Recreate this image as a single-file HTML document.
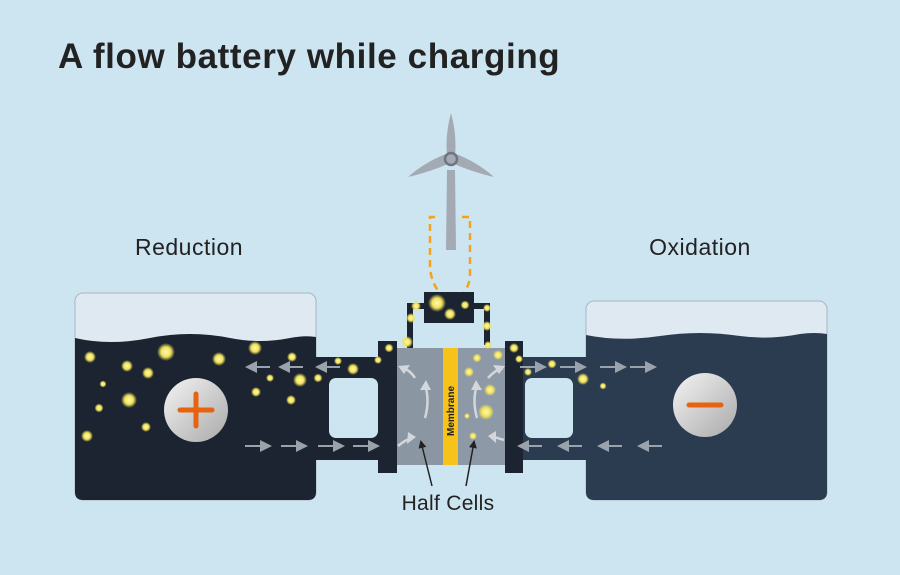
<!DOCTYPE html>
<html><head><style>
html,body{margin:0;padding:0;background:#cde4f1;}
svg{display:block;}
text{font-family:"Liberation Sans",sans-serif;}
</style></head><body>
<svg width="900" height="575" viewBox="0 0 900 575" xmlns="http://www.w3.org/2000/svg">
<defs>
<radialGradient id="b"><stop offset="0" stop-color="#fffbb0"/><stop offset="0.55" stop-color="#f1e15a"/><stop offset="1" stop-color="#f1e15a" stop-opacity="0"/></radialGradient>
<linearGradient id="c" x1="0" y1="0" x2="1" y2="1"><stop offset="0" stop-color="#f4f4f4"/><stop offset="1" stop-color="#a9a9a9"/></linearGradient>
<marker id="ah" markerWidth="8" markerHeight="8" refX="6" refY="4" orient="auto" markerUnits="userSpaceOnUse"><path d="M0,0 L8,4 L0,8 Z" fill="#222"/></marker>
</defs>
<rect width="900" height="575" fill="#cde4f1"/>
<text x="58" y="68" font-size="35" font-weight="bold" fill="#222" letter-spacing="0.6">A flow battery while charging</text>
<text x="189" y="255" font-size="23" fill="#222" text-anchor="middle" letter-spacing="0.5">Reduction</text>
<text x="700" y="255" font-size="23" fill="#222" text-anchor="middle" letter-spacing="0.5">Oxidation</text>

<!-- turbine -->
<path d="M447,170 L455,170 L456,250 L446,250 Z" fill="#a4aab3"/>
<path d="M451,113 Q457,135 455,155 L447,155 Q445,135 451,113Z" fill="#a4aab3"/>
<path d="M408,177 Q425,162 446,154 L450,163 Q430,172 408,177Z" fill="#a4aab3"/>
<path d="M494,177 Q477,162 456,154 L452,163 Q472,172 494,177Z" fill="#a4aab3"/>
<circle cx="451" cy="159" r="6" fill="#a4aab3" stroke="#6e7781" stroke-width="2.5"/>
<path d="M435,217 L430,217 L430,265 Q430,282 442,296" fill="none" stroke="#f2a41b" stroke-width="2.5" stroke-dasharray="7,5"/>
<path d="M462,217 L470,217 L470,275 Q470,285 462,296" fill="none" stroke="#f2a41b" stroke-width="2.5" stroke-dasharray="7,5"/>

<!-- left tank -->
<rect x="75" y="293" width="241" height="207" rx="8" fill="#dfe9f1" stroke="#a9b6c1"/>
<path d="M75,338 Q110,346 150,338 Q190,330 230,338 Q260,344 290,338 Q305,335 316,337 L316,492 Q316,500 308,500 L83,500 Q75,500 75,492Z" fill="#1b2430"/>
<!-- right tank -->
<rect x="586" y="301" width="241" height="199" rx="8" fill="#dfe9f1" stroke="#a9b6c1"/>
<path d="M586,335 Q620,342 660,336 Q700,330 740,336 Q770,340 800,334 Q815,332 827,334 L827,492 Q827,500 819,500 L594,500 Q586,500 586,492Z" fill="#2b3c50"/>

<!-- pipes -->
<path d="M316,357 L380,357 L380,460 L316,460Z" fill="#1b2430"/>
<rect x="329" y="378" width="49" height="60" rx="7" fill="#cde4f1"/>
<path d="M523,357 L586,357 L586,460 L523,460Z" fill="#2b3c50"/>
<rect x="525" y="378" width="48" height="60" rx="7" fill="#cde4f1"/>
<rect x="378" y="341" width="19" height="132" fill="#1b2430"/>
<rect x="505" y="341" width="18" height="132" fill="#1b2430"/>
<rect x="397" y="348" width="46" height="117" fill="#8a96a2"/>
<rect x="443" y="348" width="15" height="117" fill="#f7c31a"/>
<rect x="458" y="348" width="47" height="117" fill="#8d99a6"/>
<text transform="translate(454,436) rotate(-90)" font-size="10" font-weight="bold" fill="#222">Membrane</text>
<!-- wires & box -->
<path d="M410,348 L410,306 L426,306 M474,306 L487,306 L487,345" fill="none" stroke="#1b2430" stroke-width="6"/>
<rect x="424" y="292" width="50" height="31" fill="#1b2430"/>

<!-- flow arrows -->
<g fill="#9aa2ab" stroke="#9aa2ab" stroke-width="2">
<g id="al"><line x1="255" y1="367" x2="270" y2="367"/><path d="M245,367 L257,361 L257,373Z" stroke="none"/></g>
<use href="#al" x="33"/><use href="#al" x="70"/>
<g id="ar"><line x1="245" y1="446" x2="262" y2="446"/><path d="M272,446 L260,440 L260,452Z" stroke="none"/></g>
<use href="#ar" x="36"/><use href="#ar" x="73"/><use href="#ar" x="108"/>
<use href="#ar" x="275" y="-79"/><use href="#ar" x="315" y="-79"/><use href="#ar" x="355" y="-79"/><use href="#ar" x="385" y="-79"/>
<use href="#al" x="272" y="79"/><use href="#al" x="312" y="79"/><use href="#al" x="352" y="79"/><use href="#al" x="392" y="79"/>
</g>
<g fill="none" stroke="#d3d6da" stroke-width="2.5">
<path d="M415,378 Q410,370 403,368"/><path d="M425,418 Q430,400 425,385"/><path d="M398,446 Q405,440 412,438"/>
<path d="M488,378 Q495,370 503,368"/><path d="M477,418 Q472,400 477,385"/><path d="M504,440 Q497,438 492,436"/>
</g>
<g fill="#d3d6da"><path d="M398,366 L410,365 L404,374Z"/><path d="M426,380 L420,390 L431,390Z"/><path d="M416,437 L408,432 L407,444Z"/>
<path d="M505,366 L493,365 L499,374Z"/><path d="M476,380 L471,390 L482,390Z"/><path d="M488,436 L496,431 L496,443Z"/></g>

<!-- circles -->
<circle cx="196" cy="410" r="32" fill="url(#c)"/>
<path d="M180,410 H212 M196,394 V426" stroke="#e8630f" stroke-width="5" stroke-linecap="round"/>
<circle cx="705" cy="405" r="32" fill="url(#c)"/>
<path d="M689,405 H721" stroke="#e8630f" stroke-width="5" stroke-linecap="round"/>

<!-- bubbles -->
<g fill="url(#b)">
<circle cx="90" cy="357" r="6"/><circle cx="166" cy="352" r="9"/><circle cx="127" cy="366" r="6"/><circle cx="148" cy="373" r="6"/><circle cx="103" cy="384" r="3.5"/><circle cx="129" cy="400" r="8"/><circle cx="99" cy="408" r="4.5"/><circle cx="146" cy="427" r="5"/><circle cx="87" cy="436" r="6"/><circle cx="219" cy="359" r="7"/><circle cx="255" cy="348" r="7"/><circle cx="292" cy="357" r="5"/><circle cx="270" cy="378" r="4"/><circle cx="300" cy="380" r="7"/><circle cx="256" cy="392" r="5"/><circle cx="291" cy="400" r="5"/><circle cx="318" cy="378" r="4.5"/><circle cx="353" cy="369" r="6"/><circle cx="338" cy="361" r="4"/><circle cx="378" cy="360" r="4"/><circle cx="389" cy="348" r="4.5"/><circle cx="407" cy="342" r="6"/><circle cx="411" cy="318" r="5"/><circle cx="416" cy="306" r="5"/><circle cx="437" cy="303" r="9"/><circle cx="450" cy="314" r="6"/><circle cx="465" cy="305" r="4.5"/><circle cx="487" cy="308" r="4"/><circle cx="487" cy="326" r="5"/><circle cx="488" cy="345" r="4"/><circle cx="514" cy="348" r="5"/><circle cx="519" cy="359" r="4"/><circle cx="528" cy="372" r="4"/><circle cx="552" cy="364" r="4.5"/><circle cx="583" cy="379" r="6"/><circle cx="603" cy="386" r="3.5"/><circle cx="477" cy="358" r="4.5"/><circle cx="498" cy="355" r="5"/><circle cx="469" cy="372" r="5"/><circle cx="490" cy="390" r="6"/><circle cx="486" cy="412" r="8"/><circle cx="467" cy="416" r="3"/><circle cx="473" cy="436" r="4"/>
</g>

<!-- half cells -->
<line x1="432" y1="486" x2="421" y2="442" stroke="#222" stroke-width="1.5" marker-end="url(#ah)"/>
<line x1="466" y1="486" x2="474" y2="442" stroke="#222" stroke-width="1.5" marker-end="url(#ah)"/>
<text x="448" y="510" font-size="21" fill="#222" text-anchor="middle" letter-spacing="0.3">Half Cells</text>
</svg>
</body></html>
